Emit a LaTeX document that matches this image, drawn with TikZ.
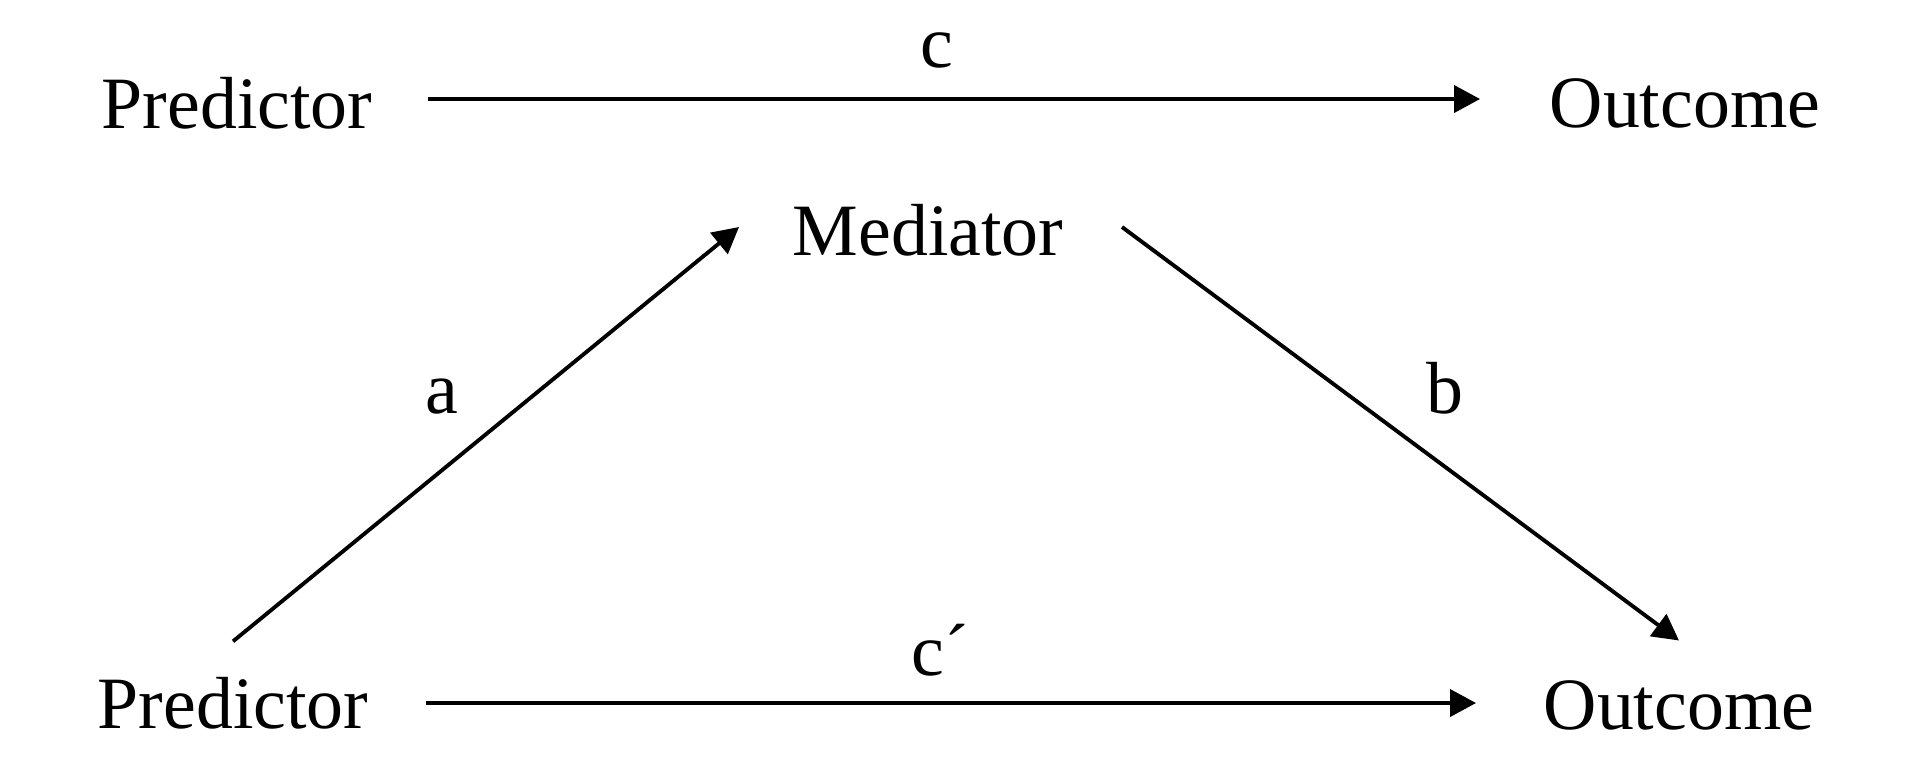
\documentclass[tikz,border=0pt]{standalone}
\usepackage{fontspec}
\setmainfont{Liberation Serif}
\usetikzlibrary{arrows.meta}
\begin{document}
\begin{tikzpicture}[line join=round, font=\fontsize{21}{25}\selectfont,
	var/.style={inner sep=0pt},
	lab/.style={inner sep=0pt, anchor=base},
	arr/.style={line width=1.1pt, -{Triangle[length=0.26cm, width=0.27cm]}}]
	\useasboundingbox (0,0) rectangle (19.15,-7.61);
	\node[var] (pt) at (2.37,-1.03) {Predictor};
	\node[var] (ot) at (16.85,-1.03) {Outcome};
	\node[var] (med) at (9.28,-2.30) {Mediator};
	\node[var] (pb) at (2.33,-7.03) {Predictor};
	\node[var] (ob) at (16.79,-7.05) {Outcome};
	\draw[arr] ([xshift=0.55cm, yshift=0.04cm]pt.east) -- ([xshift=-0.69cm, yshift=0.04cm]ot.west);
	\draw[arr] ([xshift=0.57cm]pb.east) -- ([xshift=-0.67cm, yshift=0.02cm]ob.west);
	\draw[arr] ([yshift=0.35cm]pb.north) -- ([xshift=-0.53cm, yshift=0.03cm]med.west);
	\draw[arr] ([xshift=0.58cm, yshift=0.03cm]med.east) -- ([yshift=0.39cm]ob.north);
	\node[lab] (c) at (9.37,-0.67) {c};
	\node[lab] (a) at (4.42,-4.13) {a};
	\node[lab] (b) at (14.45,-4.13) {b};
	\node[lab] (cp) at (9.40,-6.75) {c´};
\end{tikzpicture}
\end{document}
